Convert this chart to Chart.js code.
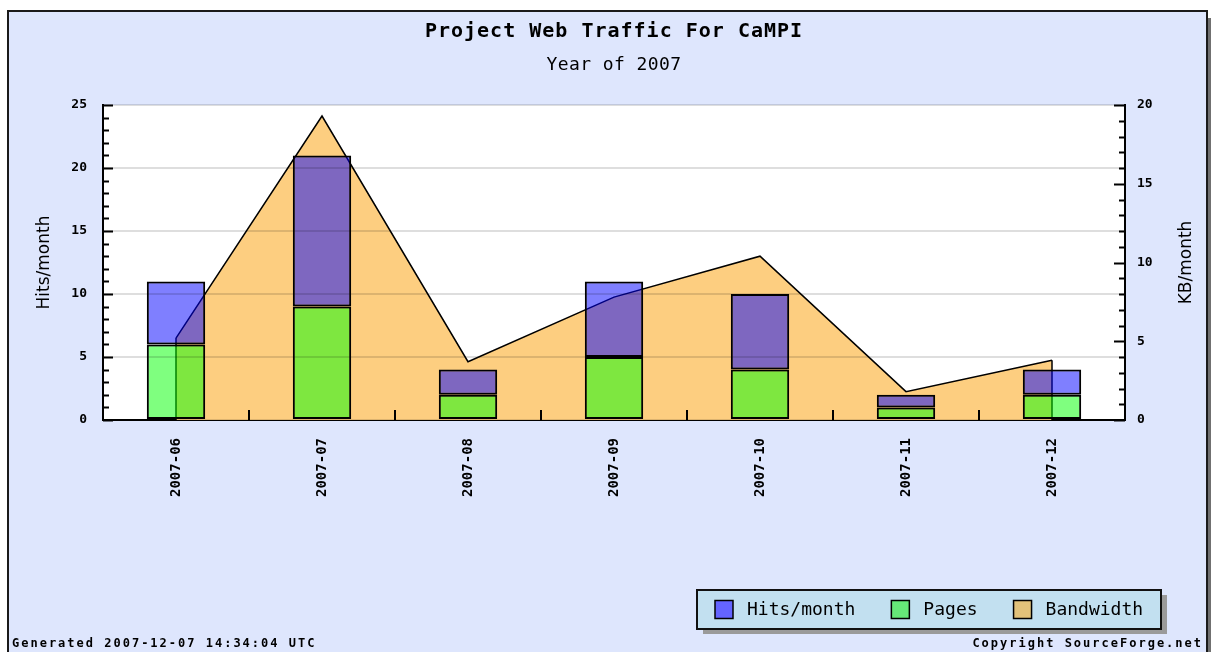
<!DOCTYPE html>
<html>
<head>
<meta charset="utf-8">
<title>Project Web Traffic For CaMPI</title>
<script src="https://cdn.jsdelivr.net/npm/chart.js@4.4.1/dist/chart.umd.min.js"></script>
<style>
  html, body { margin: 0; padding: 0; background: #fff; }
  #wrap { width: 1211px; height: 652px; }
</style>
</head>
<body>
<div id="wrap"><canvas id="traffic" width="1211" height="652"></canvas></div>
<script>
// datos del gráfico
const months = ["2007-06", "2007-07", "2007-08", "2007-09", "2007-10", "2007-11", "2007-12"];
const hitsPerMonth = [11, 21, 4, 11, 10, 2, 4];
const pagesPerMonth = [6, 9, 2, 5, 4, 1, 2];
const bandwidthKB = [5.2, 19.3, 3.7, 7.8, 10.4, 1.8, 3.8];
const hitsTicks = [0, 5, 10, 15, 20, 25];
const kbTicks = [0, 5, 10, 15, 20];

// ===========================
// ESTILO / LAYOUT
// ===========================
const MONO = '"DejaVu Sans Mono", monospace';
const SANS = '"DejaVu Sans", sans-serif';
const W = 1211, H = 652;
const PLOT = { left: 103, right: 1125, top: 105, bottom: 420 };
const legendSwatches = ["#6464ff", "#66e878", "#e2c27a"];

// fondo, marco y área blanca
const marco = {
    id: "marco",
    beforeDraw(chart) {
        const ctx = chart.ctx;
        const a = chart.chartArea;
        ctx.save();
        ctx.fillStyle = "#ffffff";
        ctx.fillRect(0, 0, W, H);
        ctx.fillStyle = "#707070";
        ctx.fillRect(1208, 18, 3, H);
        ctx.fillStyle = "#dee6fd";
        ctx.fillRect(8, 11, 1199, H);
        ctx.strokeStyle = "#1a1a1a";
        ctx.lineWidth = 2;
        ctx.strokeRect(8, 11, 1199, H + 10);
        ctx.fillStyle = "#ffffff";
        ctx.fillRect(a.left, a.top, a.right - a.left, a.bottom - a.top);
        ctx.restore();
    }
};

// bordes verticales del área de bandwidth (debajo de las barras)
const bordesArea = {
    id: "bordesArea",
    afterDatasetDraw(chart, args) {
        if (chart.data.datasets[args.index].type !== "line") return;
        const pts = args.meta.data;
        const y0 = chart.scales.y1.getPixelForValue(0);
        const ctx = chart.ctx;
        ctx.save();
        ctx.strokeStyle = "#000";
        ctx.lineWidth = 1.5;
        [pts[0], pts[pts.length - 1]].forEach(p => {
            ctx.beginPath();
            ctx.moveTo(p.x, p.y);
            ctx.lineTo(p.x, y0);
            ctx.stroke();
        });
        ctx.restore();
    }
};

// títulos, ticks menores, leyenda y pie
const extras = {
    id: "extras",
    afterDraw(chart) {
        const ctx = chart.ctx;
        const a = chart.chartArea;
        const { x, y, y1 } = chart.scales;
        const cx = (a.left + a.right) / 2;
        ctx.save();
        ctx.fillStyle = "#000";
        ctx.textAlign = "center";
        ctx.textBaseline = "middle";

        ctx.font = "bold 20px " + MONO;
        ctx.letterSpacing = "1px";
        ctx.fillText("Project Web Traffic For CaMPI", cx, 32);
        ctx.font = "18px " + MONO;
        ctx.letterSpacing = "0.4px";
        ctx.fillText("Year of 2007", cx, 65);
        ctx.letterSpacing = "0px";

        // títulos de ejes
        ctx.font = "17px " + SANS;
        ctx.save();
        ctx.translate(45, (a.top + a.bottom) / 2);
        ctx.rotate(-Math.PI / 2);
        ctx.fillText("Hits/month", 0, 0);
        ctx.restore();
        ctx.save();
        ctx.translate(1187, (a.top + a.bottom) / 2);
        ctx.rotate(-Math.PI / 2);
        ctx.fillText("KB/month", 0, 0);
        ctx.restore();

        // ticks menores y mayores hacia adentro
        ctx.strokeStyle = "#000";
        ctx.lineWidth = 2;
        for (let v = y.min; v <= y.max; v++) {
            const py = Math.round(y.getPixelForValue(v)) + 0.5;
            const len = v % 5 === 0 ? 10 : 6;
            ctx.beginPath();
            ctx.moveTo(a.left, py);
            ctx.lineTo(a.left + len, py);
            ctx.stroke();
        }
        for (let v = y1.min; v <= y1.max; v++) {
            const py = Math.round(y1.getPixelForValue(v)) + 0.5;
            const len = v % 5 === 0 ? 11 : 6;
            ctx.beginPath();
            ctx.moveTo(a.right, py);
            ctx.lineTo(a.right - len, py);
            ctx.stroke();
        }
        for (let i = 0; i < months.length - 1; i++) {
            const px = Math.round((x.getPixelForValue(i) + x.getPixelForValue(i + 1)) / 2);
            ctx.beginPath();
            ctx.moveTo(px, a.bottom);
            ctx.lineTo(px, a.bottom - 10);
            ctx.stroke();
        }

        // leyenda
        const box = { x: 697, y: 590, w: 464, h: 39 };
        ctx.fillStyle = "#9a9a9a";
        ctx.fillRect(box.x + 6, box.y + 5, box.w, box.h);
        ctx.fillStyle = "#c2e0f0";
        ctx.fillRect(box.x, box.y, box.w, box.h);
        ctx.lineWidth = 2;
        ctx.strokeStyle = "#111";
        ctx.strokeRect(box.x, box.y, box.w, box.h);
        ctx.font = "18px " + MONO;
        ctx.textAlign = "left";
        let lx = box.x + 18;
        const ly = box.y + box.h / 2;
        chart.data.datasets.forEach((ds, i) => {
            ctx.fillStyle = legendSwatches[i];
            ctx.fillRect(lx, ly - 9, 18, 18);
            ctx.lineWidth = 1.5;
            ctx.strokeStyle = "#000";
            ctx.strokeRect(lx, ly - 9, 18, 18);
            ctx.fillStyle = "#000";
            ctx.fillText(ds.label, lx + 32, ly + 1);
            lx += 32 + ctx.measureText(ds.label).width + 36;
        });

        // pie
        ctx.font = "bold 12px " + MONO;
        ctx.letterSpacing = "2px";
        ctx.textAlign = "left";
        ctx.fillText("Generated 2007-12-07 14:34:04 UTC", 12, 644);
        ctx.textAlign = "right";
        ctx.fillText("Copyright SourceForge.net", 1203, 644);
        ctx.restore();
    }
};

const tickFont = { family: MONO, size: 13, weight: "bold" };

new Chart(document.getElementById("traffic").getContext("2d"), {
    type: "bar",
    data: {
        labels: months,
        datasets: [
            {
                label: "Hits/month",
                data: months.map((m, i) => [pagesPerMonth[i], hitsPerMonth[i]]),
                backgroundColor: "rgba(0, 0, 255, 0.5)",
                borderColor: "#000",
                borderWidth: 2,
                borderSkipped: false,
                grouped: false,
                barPercentage: 0.4,
                categoryPercentage: 1,
                order: 0
            },
            {
                label: "Pages",
                data: pagesPerMonth,
                backgroundColor: "rgba(0, 255, 0, 0.5)",
                borderColor: "#000",
                borderWidth: 2,
                borderSkipped: false,
                grouped: false,
                barPercentage: 0.4,
                categoryPercentage: 1,
                order: 0
            },
            {
                type: "line",
                label: "Bandwidth",
                data: bandwidthKB,
                yAxisID: "y1",
                borderColor: "#000",
                borderWidth: 1.5,
                backgroundColor: "#fdce80",
                fill: "origin",
                pointRadius: 0,
                tension: 0,
                order: 1
            }
        ]
    },
    options: {
        responsive: false,
        animation: false,
        devicePixelRatio: 1,
        layout: { padding: { top: PLOT.top, left: 0, right: 0, bottom: 0 } },
        plugins: {
            legend: { display: false },
            tooltip: { enabled: false }
        },
        scales: {
            x: {
                grid: { display: false, drawTicks: false },
                border: { color: "#000", width: 2 },
                ticks: {
                    minRotation: 90,
                    maxRotation: 90,
                    padding: 18,
                    color: "#000",
                    font: { family: MONO, size: 14, weight: "bold" }
                },
                afterFit: s => { s.height = H - PLOT.bottom; }
            },
            y: {
                position: "left",
                min: 0,
                max: 25,
                afterBuildTicks: s => { s.ticks = hitsTicks.map(v => ({ value: v })); },
                grid: { color: "rgba(0,0,0,0.13)", lineWidth: 2, drawTicks: false, z: 1 },
                border: { color: "#000", width: 2, z: 1 },
                ticks: { padding: 16, color: "#000", font: tickFont },
                afterFit: s => { s.width = PLOT.left; }
            },
            y1: {
                position: "right",
                min: 0,
                max: 20,
                afterBuildTicks: s => { s.ticks = kbTicks.map(v => ({ value: v })); },
                grid: { display: false, drawTicks: false },
                border: { color: "#000", width: 2 },
                ticks: { padding: 12, color: "#000", font: tickFont },
                afterFit: s => { s.width = W - PLOT.right; }
            }
        }
    },
    plugins: [marco, bordesArea, extras]
});
</script>
</body>
</html>
